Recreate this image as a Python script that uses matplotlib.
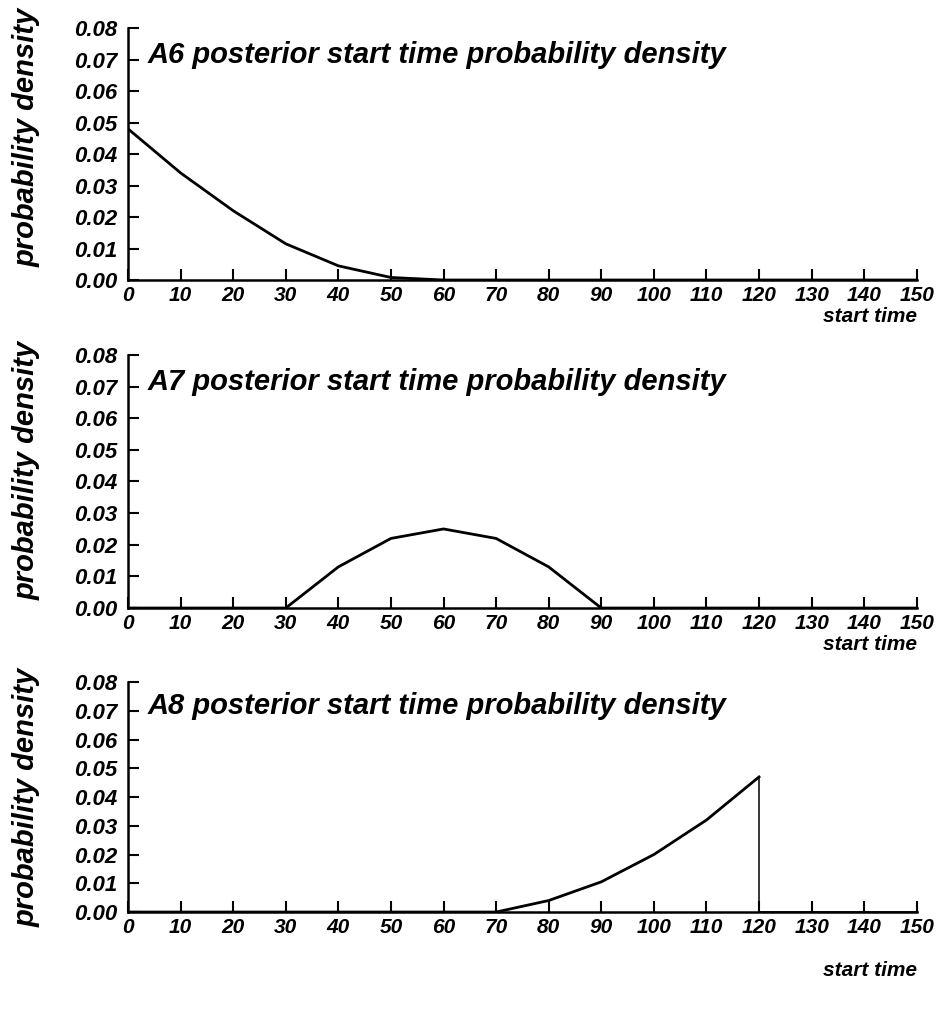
import matplotlib.pyplot as plt
from matplotlib.transforms import offset_copy

plt.rcParams.update({
    "font.family": ["Liberation Sans", "DejaVu Sans"],
    "font.weight": "bold",
    "font.style": "italic",
    "axes.linewidth": 1.8,
})

start_time = [0, 10, 20, 30, 40, 50, 60, 70, 80, 90, 100, 110, 120, 130, 140, 150]

a6_density = [0.048, 0.034, 0.022, 0.0115, 0.0045, 0.0008, 0.0, 0.0,
              0.0, 0.0, 0.0, 0.0, 0.0, 0.0, 0.0, 0.0]
a7_density = [0.0, 0.0, 0.0, 0.0, 0.013, 0.022, 0.025, 0.022,
              0.013, 0.0, 0.0, 0.0, 0.0, 0.0, 0.0, 0.0]
# A8 rises to 120 then drops straight to zero
a8_x = [0, 10, 20, 30, 40, 50, 60, 70, 80, 90, 100, 110, 120]
a8_density = [0.0, 0.0, 0.0, 0.0, 0.0, 0.0, 0.0, 0.0, 0.004, 0.0105, 0.020, 0.032, 0.047]
a8_drop_x = [120, 120]
a8_drop_y = [0.047, 0.0]

titles = ["A6 posterior start time probability density",
          "A7 posterior start time probability density",
          "A8 posterior start time probability density"]
y_ticks = [0.00, 0.01, 0.02, 0.03, 0.04, 0.05, 0.06, 0.07, 0.08]
x_ticks = list(range(0, 151, 10))

fig = plt.figure(figsize=(9.51, 10.09), dpi=100)

# [left, bottom, width, height] for each panel
boxes = [
    [0.1346, 0.7225, 0.8294, 0.2497],
    [0.1346, 0.3974, 0.8294, 0.2508],
    [0.1346, 0.0961, 0.8294, 0.2279],
]
ylabel_y = [0.864, 0.534, 0.210]
xlabel_drop = [37, 36, 58]   # pixels below the x axis

axes = [fig.add_axes(b) for b in boxes]

axes[0].plot(start_time, a6_density, color="black", lw=2)
axes[1].plot(start_time, a7_density, color="black", lw=2)
axes[2].plot(a8_x, a8_density, color="black", lw=2)
axes[2].plot(start_time[12:], [0.0] * 4, color="black", lw=2)
axes[2].plot(a8_drop_x, a8_drop_y, color="black", lw=1.1)

for i, ax in enumerate(axes):
    ax.set_xlim(0, 150)
    ax.set_ylim(0, 0.08)
    ax.spines["top"].set_visible(False)
    ax.spines["right"].set_visible(False)
    ax.set_xticks(x_ticks)
    ax.set_yticks(y_ticks)
    ax.set_xticklabels([str(v) for v in x_ticks])
    ax.set_yticklabels([f"{v:.2f}" for v in y_ticks])
    ax.tick_params(direction="in", length=8, width=1.5, labelsize=15, pad=4)
    ax.tick_params(axis="y", labelsize=16, pad=8)
    for lab in ax.get_xticklabels() + ax.get_yticklabels():
        lab.set_fontweight("bold")
        lab.set_fontstyle("italic")
    ax.text(0.025, 0.895, titles[i], transform=ax.transAxes, fontsize=21,
            fontweight="bold", fontstyle="italic", ha="left", va="center")
    tr = offset_copy(ax.transAxes, fig=fig, x=0, y=-xlabel_drop[i] * 0.72, units="points")
    ax.text(1.0, 0.0, "start time", transform=tr, fontsize=15,
            fontweight="bold", fontstyle="italic", ha="right", va="center")
    fig.text(0.028, ylabel_y[i], "probability density", rotation=90,
             fontsize=21, fontweight="bold", fontstyle="italic",
             ha="center", va="center")

fig.savefig("out.png", dpi=100, facecolor="white")
